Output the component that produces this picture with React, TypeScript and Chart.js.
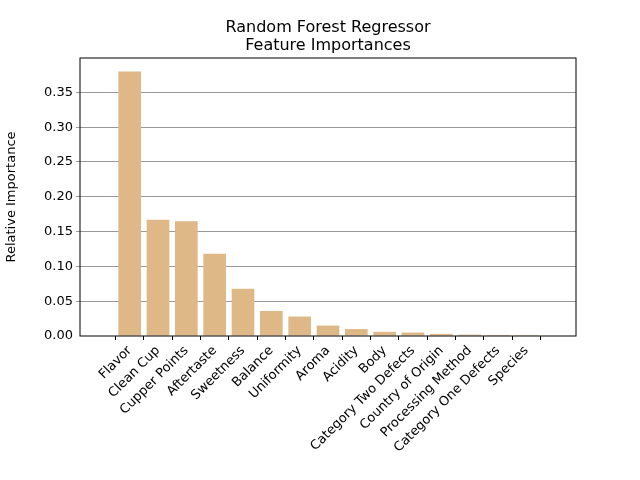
import { useEffect, useRef } from 'react';
import { Chart, registerables } from 'chart.js';

Chart.register(...registerables);

const features = [
  'Flavor', 'Clean Cup', 'Cupper Points', 'Aftertaste', 'Sweetness', 'Balance',
  'Uniformity', 'Aroma', 'Acidity', 'Body', 'Category Two Defects',
  'Country of Origin', 'Processing Method', 'Category One Defects', 'Species',
];
const importances = [
  0.380, 0.167, 0.165, 0.118, 0.068, 0.036, 0.028, 0.015, 0.010, 0.006,
  0.005, 0.003, 0.002, 0.0015, 0.0002,
];
const yTicks = [0, 0.05, 0.1, 0.15, 0.2, 0.25, 0.3, 0.35];
const titleLines = ['Random Forest Regressor', 'Feature Importances'];

const FONT = 'DejaVu Sans';

export default function App() {
  const chartRef = useRef<HTMLCanvasElement>(null);

  useEffect(() => {
    if (!chartRef.current) return;
    document.body.style.margin = '0';

    const framePlugin = {
      id: 'frame',
      afterDraw(chart: Chart) {
        const { ctx, chartArea: a } = chart;
        ctx.save();
        ctx.strokeStyle = '#000';
        ctx.lineWidth = 1;
        ctx.strokeRect(a.left, a.top, a.right - a.left, a.bottom - a.top);
        ctx.fillStyle = '#000';
        ctx.font = `16px "${FONT}"`;
        ctx.textAlign = 'center';
        ctx.textBaseline = 'alphabetic';
        const cx = (a.left + a.right) / 2;
        ctx.fillText(titleLines[0], cx, 32);
        ctx.fillText(titleLines[1], cx, 50);
        ctx.restore();
      },
    };

    const chart = new Chart(chartRef.current, {
      type: 'bar',
      data: {
        datasets: [{
          data: importances.map((v, i) => ({ x: i, y: v })),
          backgroundColor: '#deb887',
          barPercentage: 0.8,
          categoryPercentage: 1,
        }],
      },
      options: {
        animation: false,
        responsive: false,
        layout: { padding: { top: 58, right: 64, left: 0, bottom: 0 } },
        plugins: { legend: { display: false }, tooltip: { enabled: false } },
        scales: {
          x: {
            type: 'linear',
            min: -1.17,
            max: 15.17,
            afterBuildTicks: (s: any) => { s.ticks = features.map((_, i) => ({ value: i })); },
            afterFit: (s: any) => { s.height = 144; },
            grid: { drawOnChartArea: false, tickLength: 4, color: '#000' },
            border: { display: false },
            ticks: {
              autoSkip: false,
              minRotation: 45,
              maxRotation: 45,
              color: '#000',
              font: { family: FONT, size: 13 },
              callback: (v: any) => features[v as number] ?? '',
            },
          },
          y: {
            min: 0,
            max: 0.3994,
            afterBuildTicks: (s: any) => { s.ticks = yTicks.map(v => ({ value: v })); },
            afterFit: (s: any) => { s.width = 80; },
            grid: {
              color: (c: any) => (c.tick && c.tick.value > 0 ? '#999' : 'rgba(0,0,0,0)'),
              tickLength: 4,
            },
            border: { display: false },
            title: {
              display: true,
              text: 'Relative Importance',
              color: '#000',
              font: { family: FONT, size: 13 },
            },
            ticks: {
              color: '#000',
              font: { family: FONT, size: 13 },
              callback: (v: any) => Number(v).toFixed(2),
            },
          },
        },
      },
      plugins: [framePlugin],
    });

    return () => chart.destroy();
  }, []);

  return <canvas ref={chartRef} width={640} height={480} style={{ display: 'block' }} />;
}
